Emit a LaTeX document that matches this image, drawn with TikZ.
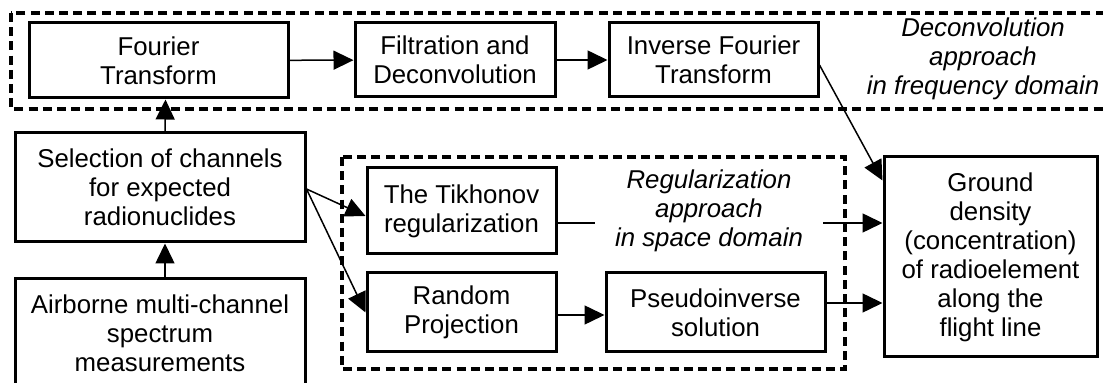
\documentclass[tikz,border=0pt]{standalone}
\usepackage{fontspec}
\setmainfont{Liberation Sans}
\usetikzlibrary{arrows.meta}
\begin{document}
\begin{tikzpicture}[x=0.5pt,y=-0.5pt,
  font=\fontsize{12.9}{14.5}\selectfont,
  box/.style={draw, line width=1.5pt, rectangle, align=center, inner sep=0pt},
  group/.style={draw, line width=1.6pt, dash pattern=on 4.5pt off 2.6pt},
  arr/.style={line width=0.75pt, -{Triangle[length=10pt,width=9.5pt]}},
  note/.style={align=center, font=\fontsize{12.9}{14.5}\selectfont\itshape}]
\useasboundingbox (0,0) rectangle (1103,383);
\clip (0,0) rectangle (1103,383);

% dashed groups
\draw[group] (11,13) rectangle (1115,109);
\draw[group] (342,157) rectangle (845,369);

% frequency-domain chain
\node[box, minimum width=129.5pt, minimum height=37.5pt] (four) at (158.5,60.5) {Fourier\\Transform};
\node[box, minimum width=100pt, minimum height=37pt] (filt) at (455,60) {Filtration and\\Deconvolution};
\node[box, minimum width=104.5pt, minimum height=37pt] (inv) at (713.5,60) {Inverse Fourier\\Transform};
\node[note] (deconv) at (983,59) {Deconvolution\\approach\\in frequency domain};

% input side
\node[box, minimum width=145pt, minimum height=54.5pt] (sel) at (160,187.5) {Selection of channels\\for expected\\radionuclides};
\node[box, minimum width=145pt, minimum height=54pt] (air) at (160,333) {Airborne multi-channel\\spectrum\\measurements};

% space-domain methods
\node[box, minimum width=94.5pt, minimum height=43pt] (tik) at (461.5,211) {The Tikhonov\\regularization};
\node[box, minimum width=94.5pt, minimum height=39.5pt] (rand) at (461.5,312.5) {Random\\Projection};
\node[box, minimum width=109.5pt, minimum height=39.5pt] (pinv) at (715.5,312.5) {Pseudoinverse\\solution};

% result
\node[box, minimum width=106.5pt, minimum height=100pt] (gr) at (990.5,257) {Ground\\density\\(concentration)\\of radioelement\\along the\\flight line};

% connectors
\draw[arr] (four) -- (filt);
\draw[arr] (filt) -- (inv);
\draw[arr] ([xshift=2.5pt]air.north) -- ([xshift=2.5pt]sel.south);
\draw[arr] ([xshift=2.5pt]sel.north) -- ([xshift=3.5pt]four.south);
\draw[arr] ([yshift=-0.75pt]sel.east) -- ([yshift=-2.5pt]tik.west);
\draw[arr] ([yshift=-0.75pt]sel.east) -- (rand.west);
\draw[arr] ([yshift=-2.5pt]inv.east) -- ([yshift=-12.5pt]gr.north west);
\coordinate (t1) at ([yshift=-6pt]tik.east);
\draw[arr] (t1) -- (t1 -| gr.west);
\draw[arr] ([yshift=-1.25pt]rand.east) -- ([yshift=-1.25pt]rand.east -| pinv.west);
\coordinate (p1) at ([yshift=4.75pt]pinv.east);
\draw[arr] (p1) -- (p1 -| gr.west);

% label of the space-domain group, drawn over the Tikhonov connector
\node[note, fill=white, inner xsep=10pt, inner ysep=0pt] (regul) at (709,211) {Regularization\\approach\\in space domain};
\end{tikzpicture}
\end{document}
